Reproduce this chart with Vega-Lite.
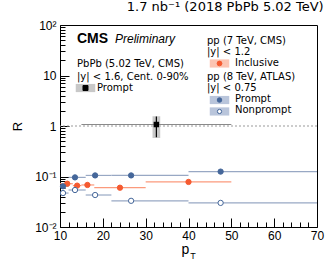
{
  "$schema": "https://vega.github.io/schema/vega-lite/v6.json",
  "width": 257,
  "height": 202,
  "autosize": "none",
  "padding": {"left": 60, "top": 25, "right": 15, "bottom": 39},
  "background": "white",
  "config": {
    "view": {"stroke": "black", "strokeWidth": 1},
    "font": "Liberation Sans",
    "text": {"font": "Liberation Sans"}
  },
  "title": {
    "text": "1.7 nb⁻¹ (2018 PbPb 5.02 TeV)",
    "anchor": "end",
    "fontSize": 13,
    "fontWeight": "normal",
    "font": "DejaVu Sans",
    "color": "black",
    "offset": 5
  },
  "datasets": {
    "pp": [
      {"s": "inc", "pt": 11.7, "lo": 10, "hi": 13, "r": 0.072, "elo": 0.069, "ehi": 0.075},
      {"s": "inc", "pt": 14.0, "lo": 13, "hi": 15, "r": 0.066, "elo": 0.063, "ehi": 0.069},
      {"s": "inc", "pt": 16.4, "lo": 15, "hi": 18, "r": 0.068, "elo": 0.065, "ehi": 0.071},
      {"s": "inc", "pt": 24.0, "lo": 18, "hi": 30, "r": 0.060, "elo": 0.057, "ehi": 0.063},
      {"s": "inc", "pt": 40.0, "lo": 30, "hi": 50, "r": 0.078, "elo": 0.071, "ehi": 0.084},
      {"s": "prompt", "pt": 10.7, "lo": 10, "hi": 12, "r": 0.064, "elo": 0.062, "ehi": 0.066},
      {"s": "prompt", "pt": 13.5, "lo": 12, "hi": 16, "r": 0.096, "elo": 0.093, "ehi": 0.099},
      {"s": "prompt", "pt": 18.2, "lo": 16, "hi": 22, "r": 0.105, "elo": 0.102, "ehi": 0.108},
      {"s": "prompt", "pt": 26.6, "lo": 22, "hi": 40, "r": 0.105, "elo": 0.102, "ehi": 0.108},
      {"s": "prompt", "pt": 47.5, "lo": 40, "hi": 70, "r": 0.125, "elo": 0.121, "ehi": 0.129},
      {"s": "np", "pt": 10.7, "lo": 10, "hi": 12, "r": 0.047, "elo": 0.046, "ehi": 0.048},
      {"s": "np", "pt": 13.5, "lo": 12, "hi": 16, "r": 0.054, "elo": 0.053, "ehi": 0.055},
      {"s": "np", "pt": 18.2, "lo": 16, "hi": 22, "r": 0.043, "elo": 0.042, "ehi": 0.044},
      {"s": "np", "pt": 26.6, "lo": 22, "hi": 40, "r": 0.033, "elo": 0.032, "ehi": 0.034},
      {"s": "np", "pt": 47.5, "lo": 40, "hi": 70, "r": 0.030, "elo": 0.029, "ehi": 0.031}
    ],
    "pbpb": [
      {"pt": 32.5, "lo": 15, "hi": 50, "r": 1.07, "elo": 0.60, "ehi": 1.55, "blo": 31.6, "bhi": 33.4, "slo": 0.58, "shi": 1.56}
    ],
    "swatch": [
      {"k": "pbpb", "x": 15.95, "y": 5.65},
      {"k": "inc", "x": 47.24, "y": 17.3},
      {"k": "prompt", "x": 47.24, "y": 3.27},
      {"k": "np", "x": 47.24, "y": 1.94}
    ],
    "legend": [
      {"t": "PbPb (5.02 TeV, CMS)", "x": 13.97, "y": 14.9},
      {"t": "|y| < 1.6, Cent. 0-90%", "x": 13.97, "y": 8.15},
      {"t": "Prompt", "x": 18.64, "y": 5.0},
      {"t": "pp (7 TeV, CMS)", "x": 44.32, "y": 41.5},
      {"t": "|y| < 1.2", "x": 44.32, "y": 25.5},
      {"t": "Inclusive", "x": 50.86, "y": 15.6},
      {"t": "pp (8 TeV, ATLAS)", "x": 44.32, "y": 8.15},
      {"t": "|y| < 0.75", "x": 44.32, "y": 5.0},
      {"t": "Prompt", "x": 50.86, "y": 3.03},
      {"t": "Nonprompt", "x": 50.86, "y": 1.78}
    ]
  },
  "layer": [
    {
      "data": {"values": [{"x": 40, "y": 1}]},
      "mark": {"type": "point", "opacity": 0},
      "encoding": {
        "x": {"field": "x", "type": "quantitative",
          "scale": {"domain": [10, 70], "nice": false, "zero": false},
          "axis": {"orient": "bottom", "values": [10, 20, 30, 40, 50, 60, 70], "tickSize": -9, "labelPadding": 12,
            "labelFontSize": 12, "labelFlush": false, "labelOverlap": false, "domain": false, "grid": false,
            "tickColor": "black", "labelColor": "black", "title": null}},
        "y": {"field": "y", "type": "quantitative",
          "scale": {"type": "log", "domain": [0.01, 100], "nice": false},
          "axis": {"orient": "left", "values": [0.01, 0.1, 1, 10, 100], "tickSize": -9, "labelPadding": 13,
            "labelFontSize": 12, "labelOverlap": false, "labelFlush": false, "domain": false, "grid": false,
            "tickColor": "black", "labelColor": "black",
            "labelExpr": "datum.value < 0.05 ? '10⁻²' : datum.value < 0.5 ? '10⁻¹' : datum.value < 5 ? '1' : datum.value < 50 ? '10' : '10²'",
            "title": "R", "titleFontSize": 13, "titleFontWeight": "normal", "titleColor": "black", "titleX": -36}}
      }
    },
    {
      "data": {"values": [{"x": 40, "y": 1}]},
      "mark": {"type": "point", "opacity": 0},
      "encoding": {
        "x": {"field": "x", "type": "quantitative",
          "axis": {"orient": "bottom", "values": [12, 14, 16, 18, 22, 24, 26, 28, 32, 34, 36, 38, 42, 44, 46, 48, 52, 54, 56, 58, 62, 64, 66, 68],
            "tickSize": -5, "labels": false, "domain": false, "grid": false, "tickColor": "black", "title": null}},
        "y": {"field": "y", "type": "quantitative",
          "axis": {"orient": "left", "values": [0.02, 0.03, 0.04, 0.05, 0.06, 0.07, 0.08, 0.09, 0.2, 0.3, 0.4, 0.5, 0.6, 0.7, 0.8, 0.9, 2, 3, 4, 5, 6, 7, 8, 9, 20, 30, 40, 50, 60, 70, 80, 90],
            "tickSize": -5, "labels": false, "domain": false, "grid": false, "tickColor": "black", "title": null}}
      }
    },
    {
      "data": {"values": [{"y": 1}]},
      "mark": {"type": "rule", "color": "#999999", "strokeDash": [2, 2], "strokeWidth": 1},
      "encoding": {"y": {"field": "y", "type": "quantitative", "axis": null}}
    },
    {
      "data": {"name": "pbpb"},
      "mark": {"type": "rect", "color": "#c8c8c8"},
      "encoding": {
        "x": {"field": "blo", "type": "quantitative", "axis": null}, "x2": {"field": "bhi"},
        "y": {"field": "slo", "type": "quantitative", "axis": null}, "y2": {"field": "shi"}
      }
    },
    {
      "data": {"name": "pbpb"},
      "mark": {"type": "rule", "color": "#8a8a8a", "strokeWidth": 1.2},
      "encoding": {
        "x": {"field": "lo", "type": "quantitative", "axis": null}, "x2": {"field": "hi"},
        "y": {"field": "r", "type": "quantitative", "axis": null}
      }
    },
    {
      "data": {"name": "pbpb"},
      "mark": {"type": "rule", "color": "black", "strokeWidth": 1.2},
      "encoding": {
        "x": {"field": "pt", "type": "quantitative", "axis": null},
        "y": {"field": "elo", "type": "quantitative", "axis": null}, "y2": {"field": "ehi"}
      }
    },
    {
      "data": {"name": "pbpb"},
      "mark": {"type": "point", "shape": "square", "filled": true, "color": "black", "size": 30, "opacity": 1},
      "encoding": {
        "x": {"field": "pt", "type": "quantitative", "axis": null},
        "y": {"field": "r", "type": "quantitative", "axis": null}
      }
    },
    {
      "data": {"name": "pp"},
      "mark": {"type": "rule", "strokeWidth": 1.2},
      "encoding": {
        "x": {"field": "lo", "type": "quantitative", "axis": null}, "x2": {"field": "hi"},
        "y": {"field": "r", "type": "quantitative", "axis": null},
        "color": {"field": "s", "type": "nominal", "legend": null,
          "scale": {"domain": ["inc", "prompt", "np"], "range": ["#fb9a7c", "#98a8c4", "#98a8c4"]}}
      }
    },
    {
      "data": {"name": "pp"},
      "mark": {"type": "rule", "strokeWidth": 1.2},
      "encoding": {
        "x": {"field": "pt", "type": "quantitative", "axis": null},
        "y": {"field": "elo", "type": "quantitative", "axis": null}, "y2": {"field": "ehi"},
        "color": {"field": "s", "type": "nominal", "legend": null,
          "scale": {"domain": ["inc", "prompt", "np"], "range": ["#f55a30", "#45679a", "#45679a"]}}
      }
    },
    {
      "data": {"name": "pp"},
      "mark": {"type": "point", "shape": "circle", "filled": true, "size": 28, "opacity": 1, "strokeWidth": 1},
      "encoding": {
        "x": {"field": "pt", "type": "quantitative", "axis": null},
        "y": {"field": "r", "type": "quantitative", "axis": null},
        "fill": {"field": "s", "type": "nominal", "legend": null,
          "scale": {"domain": ["inc", "prompt", "np"], "range": ["#f55a30", "#45679a", "white"]}},
        "stroke": {"field": "s", "type": "nominal", "legend": null,
          "scale": {"domain": ["inc", "prompt", "np"], "range": ["#f55a30", "#45679a", "#45679a"]}}
      }
    },
    {
      "data": {"name": "swatch"},
      "mark": {"type": "point", "filled": true, "opacity": 1, "shape": "M-1,-0.42H1V0.42H-1Z", "size": 380},
      "encoding": {
        "x": {"field": "x", "type": "quantitative", "axis": null},
        "y": {"field": "y", "type": "quantitative", "axis": null},
        "fill": {"field": "k", "type": "nominal", "legend": null,
          "scale": {"domain": ["pbpb", "inc", "prompt", "np"], "range": ["#c8c8c8", "#fcc4b2", "#b9c5db", "#b9c5db"]}}
      }
    },
    {
      "data": {"name": "swatch"},
      "mark": {"type": "point", "filled": true, "opacity": 1, "strokeWidth": 1},
      "encoding": {
        "x": {"field": "x", "type": "quantitative", "axis": null},
        "y": {"field": "y", "type": "quantitative", "axis": null},
        "shape": {"field": "k", "type": "nominal", "legend": null,
          "scale": {"domain": ["pbpb", "inc", "prompt", "np"], "range": ["square", "circle", "circle", "circle"]}},
        "size": {"field": "k", "type": "nominal", "legend": null,
          "scale": {"domain": ["pbpb", "inc", "prompt", "np"], "range": [25, 18, 18, 18]}},
        "fill": {"field": "k", "type": "nominal", "legend": null,
          "scale": {"domain": ["pbpb", "inc", "prompt", "np"], "range": ["black", "#f55a30", "#45679a", "white"]}},
        "stroke": {"field": "k", "type": "nominal", "legend": null,
          "scale": {"domain": ["pbpb", "inc", "prompt", "np"], "range": ["black", "#f55a30", "#45679a", "#45679a"]}}
      }
    },
    {
      "data": {"name": "legend"},
      "mark": {"type": "text", "align": "left", "baseline": "alphabetic", "fontSize": 10, "font": "DejaVu Sans", "color": "black"},
      "encoding": {
        "x": {"field": "x", "type": "quantitative", "axis": null},
        "y": {"field": "y", "type": "quantitative", "axis": null},
        "text": {"field": "t"}
      }
    },
    {
      "data": {"values": [{"t": "CMS", "x": 13.97, "y": 44.0}]},
      "mark": {"type": "text", "align": "left", "baseline": "alphabetic", "fontSize": 14, "fontWeight": "bold", "color": "black"},
      "encoding": {
        "x": {"field": "x", "type": "quantitative", "axis": null},
        "y": {"field": "y", "type": "quantitative", "axis": null},
        "text": {"field": "t"}
      }
    },
    {
      "data": {"values": [{"t": "Preliminary", "x": 22.84, "y": 44.0}]},
      "mark": {"type": "text", "align": "left", "baseline": "alphabetic", "fontSize": 12, "fontStyle": "italic", "color": "black"},
      "encoding": {
        "x": {"field": "x", "type": "quantitative", "axis": null},
        "y": {"field": "y", "type": "quantitative", "axis": null},
        "text": {"field": "t"}
      }
    },
    {
      "data": {"values": [{"t": "p", "x": 39.3, "y": 0.0029}]},
      "mark": {"type": "text", "align": "center", "baseline": "alphabetic", "fontSize": 14, "color": "black"},
      "encoding": {
        "x": {"field": "x", "type": "quantitative", "axis": null},
        "y": {"field": "y", "type": "quantitative", "axis": null},
        "text": {"field": "t"}
      }
    },
    {
      "data": {"values": [{"t": "T", "x": 40.4, "y": 0.00235}]},
      "mark": {"type": "text", "align": "left", "baseline": "alphabetic", "fontSize": 9, "color": "black"},
      "encoding": {
        "x": {"field": "x", "type": "quantitative", "axis": null},
        "y": {"field": "y", "type": "quantitative", "axis": null},
        "text": {"field": "t"}
      }
    }
  ],
  "resolve": {
    "scale": {"color": "independent", "fill": "independent", "stroke": "independent", "shape": "independent", "size": "independent"},
    "axis": {"x": "independent", "y": "independent"}
  }
}
